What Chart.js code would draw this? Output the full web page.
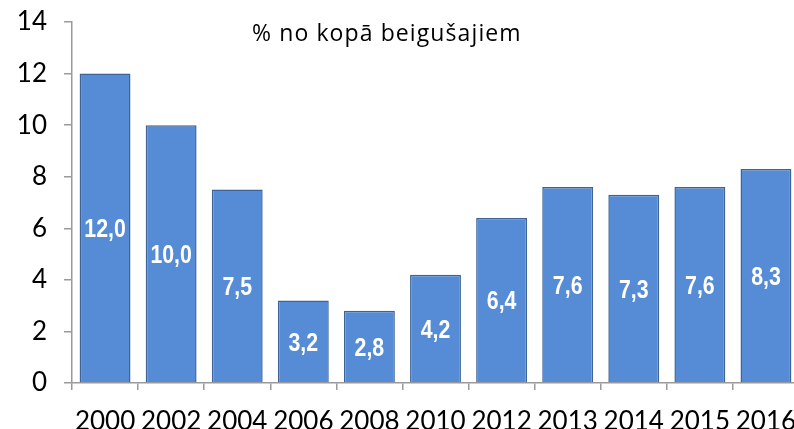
<!DOCTYPE html>
<html lang="lv">
<head>
    <meta charset="UTF-8">
    <title>% no kopā beigušajiem</title>
    <style>
        body, html {
            margin: 0;
            padding: 0;
            background: #fff;
            overflow: hidden;
        }

        #wrap {
            position: relative;
            width: 802px;
            height: 429px;
        }

        #subtitle {
            position: absolute;
            left: 252px;
            top: 17px;
            font-family: "Open Sans", "Noto Sans", sans-serif;
            font-size: 23px;
            letter-spacing: 1.1px;
            line-height: 31px;
            color: #000;
            white-space: nowrap;
        }
    </style>
</head>
<body>

<div id="wrap">
    <canvas id="chart" width="802" height="429"></canvas>
    <div id="subtitle">% no kopā beigušajiem</div>
</div>

<script src="https://cdn.jsdelivr.net/npm/chart.js@4"></script>
<script>
    const years = ['2000', '2002', '2004', '2006', '2008', '2010', '2012', '2013', '2014', '2015', '2016'];
    const shares = [12.0, 10.0, 7.5, 3.2, 2.8, 4.2, 6.4, 7.6, 7.3, 7.6, 8.3];
    const yMin = 0;
    const yMax = 14;
    const yStep = 2;

    // white numbers in the middle of each bar, comma as decimal sign.
    // no narrow font installed, so squeeze Liberation Sans horizontally
    const barLabels = {
        id: 'barLabels',
        afterDatasetsDraw(chart) {
            const ctx = chart.ctx;
            const meta = chart.getDatasetMeta(0);
            const squeeze = 0.82;
            meta.data.forEach((bar, i) => {
                const y = (bar.y + bar.base) / 2 + 2;
                ctx.save();
                ctx.translate(bar.x, y);
                ctx.scale(squeeze, 1);
                ctx.fillStyle = '#ffffff';
                ctx.font = 'bold 26px "Liberation Sans", Arial, sans-serif';
                ctx.textAlign = 'center';
                ctx.textBaseline = 'middle';
                ctx.fillText(shares[i].toFixed(1).replace('.', ','), 0, 0);
                ctx.restore();
            });
        }
    };

    const ctx = document.getElementById('chart').getContext('2d');
    new Chart(ctx, {
        type: 'bar',
        data: {
            labels: years,
            datasets: [{
                data: shares,
                backgroundColor: '#558cd5',
                borderColor: '#3d6397',
                borderWidth: 1.5,
                barPercentage: 0.77,
                categoryPercentage: 1.0
            }]
        },
        options: {
            responsive: false,
            animation: false,
            layout: { padding: { left: 0, right: 3, top: 22, bottom: 0 } },
            plugins: {
                legend: { display: false },
                tooltip: { enabled: false }
            },
            scales: {
                x: {
                    offset: true,
                    grid: {
                        offset: true,
                        drawOnChartArea: false,
                        drawTicks: true,
                        tickLength: 7,
                        color: '#9a9a9a',
                        lineWidth: 1.5
                    },
                    border: { color: '#9a9a9a', width: 1.5 },
                    ticks: {
                        color: '#000',
                        font: { family: 'Lato, "DejaVu Sans", sans-serif', size: 26 },
                        padding: 16,
                        maxRotation: 0,
                        autoSkip: false
                    },
                    afterFit(scale) {
                        scale.height = 46;
                        scale.paddingLeft = 0;
                        scale.paddingRight = 0;
                    }
                },
                y: {
                    min: yMin,
                    max: yMax,
                    grid: {
                        drawOnChartArea: false,
                        drawTicks: true,
                        tickLength: 8,
                        color: '#9a9a9a',
                        lineWidth: 1.5
                    },
                    border: { color: '#9a9a9a', width: 1.5 },
                    ticks: {
                        stepSize: yStep,
                        color: '#000',
                        font: { family: 'Lato, "DejaVu Sans", sans-serif', size: 26 },
                        padding: 17
                    },
                    afterFit(scale) {
                        scale.width = 72;
                        scale.paddingTop = 0;
                        scale.paddingBottom = 0;
                    }
                }
            }
        },
        plugins: [barLabels]
    });
</script>

</body>
</html>
